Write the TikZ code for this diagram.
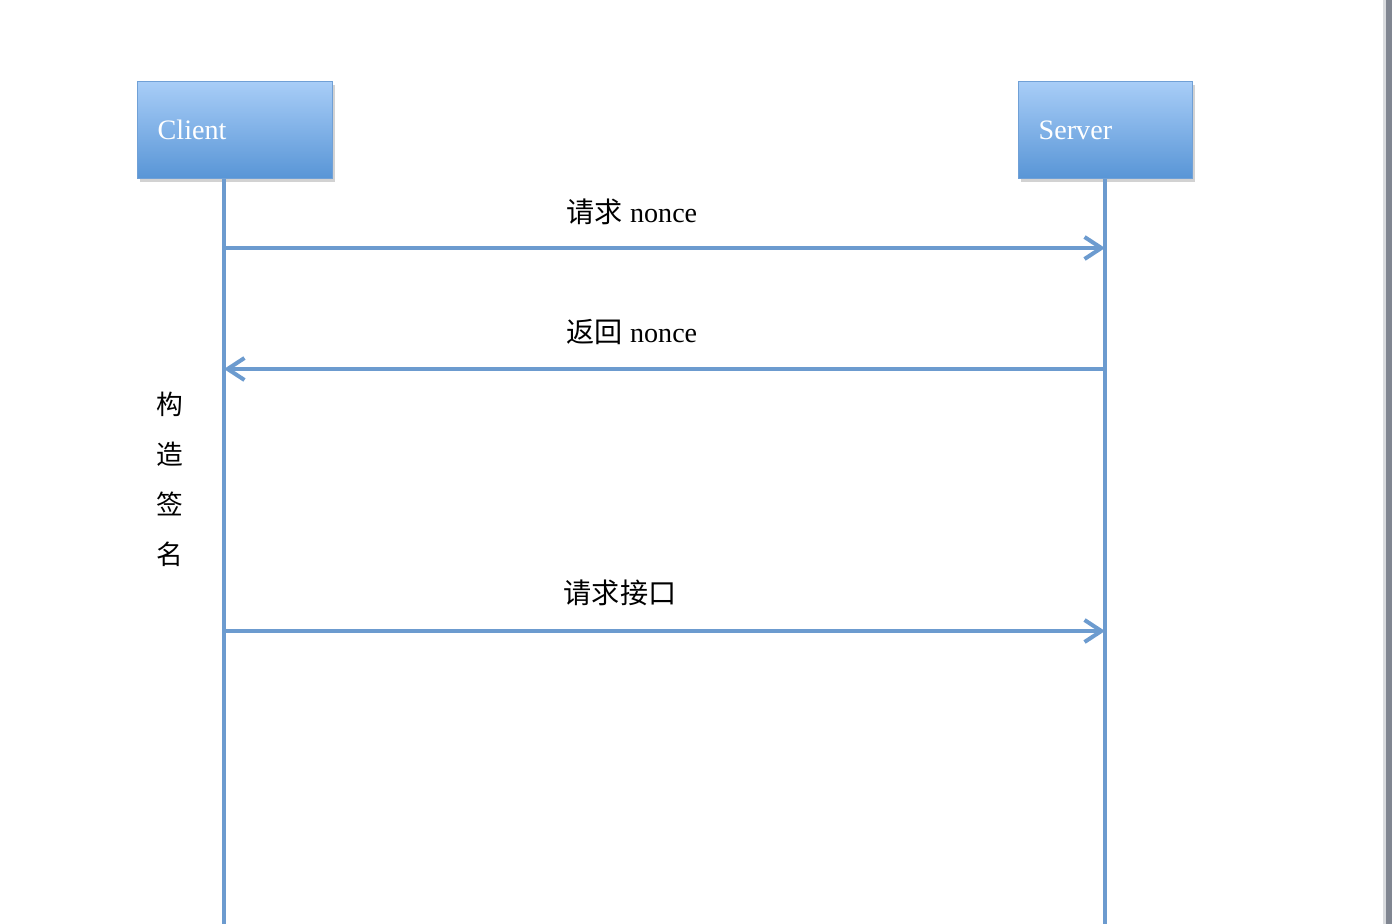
\documentclass[tikz,border=0pt]{standalone}
\usepackage{fontspec}
\setmainfont{Liberation Serif}
\newfontfamily\cjk{Noto Sans CJK SC}
\usetikzlibrary{arrows.meta,shadows}
\definecolor{lifeblue}{RGB}{108,155,207}
\definecolor{boxtop}{RGB}{168,205,247}
\definecolor{boxbot}{RGB}{88,149,214}
\definecolor{boxedge}{RGB}{112,160,214}
\definecolor{edgegray}{RGB}{128,134,145}
\tikzset{
  actor/.style={draw=boxedge, line width=1pt, top color=boxtop, bottom color=boxbot,
    anchor=north west, minimum height=2.425cm, inner xsep=0.5cm, text width=#1,
    align=left, text=white, font=\fontsize{20}{24}\selectfont,
    drop shadow={opacity=0.35, shadow xshift=0.06cm, shadow yshift=-0.08cm}},
  life/.style={lifeblue, line width=0.1cm},
  msg/.style={lifeblue, line width=0.1cm, -{Straight Barb[length=0.42cm,width=0.55cm,line width=0.1cm]}},
  lbl/.style={font=\fontsize{20}{24}\selectfont}
}
\begin{document}
\begin{tikzpicture}[x=0.025cm, y=-0.025cm]
	\useasboundingbox (0,0) rectangle (1392,924);
	\fill[white] (0,0) rectangle (1392,924);
	\fill[edgegray] (1386,0) rectangle (1392,924);
	\fill[edgegray!30] (1383,0) rectangle (1386,924);
	% participants
	\node[actor=3.875cm] (client) at (137,81) {Client};
	\node[actor=3.35cm] (server) at (1018,81) {Server};
	\coordinate (cbot) at (224,924);
	\coordinate (sbot) at (1105,924);
	\draw[life] (cbot |- client.south) -- (cbot);
	\draw[life] (sbot |- server.south) -- (sbot);
	% messages
	\draw[msg] (cbot |- 0,248) -- (sbot |- 0,248);
	\node[lbl] (m1) at (632,212) {{\cjk 请求} nonce};
	\draw[msg] (sbot |- 0,369) -- (cbot |- 0,369);
	\node[lbl] (m2) at (632,332) {{\cjk 返回} nonce};
	\draw[msg] (cbot |- 0,631) -- (sbot |- 0,631);
	\node[lbl] (m3) at (620,593) {\cjk 请求接口};
	\node[font=\cjk\fontsize{19}{35.5}\selectfont, align=center] (sign) at (170,479) {构\\造\\签\\名};
\end{tikzpicture}
\end{document}
